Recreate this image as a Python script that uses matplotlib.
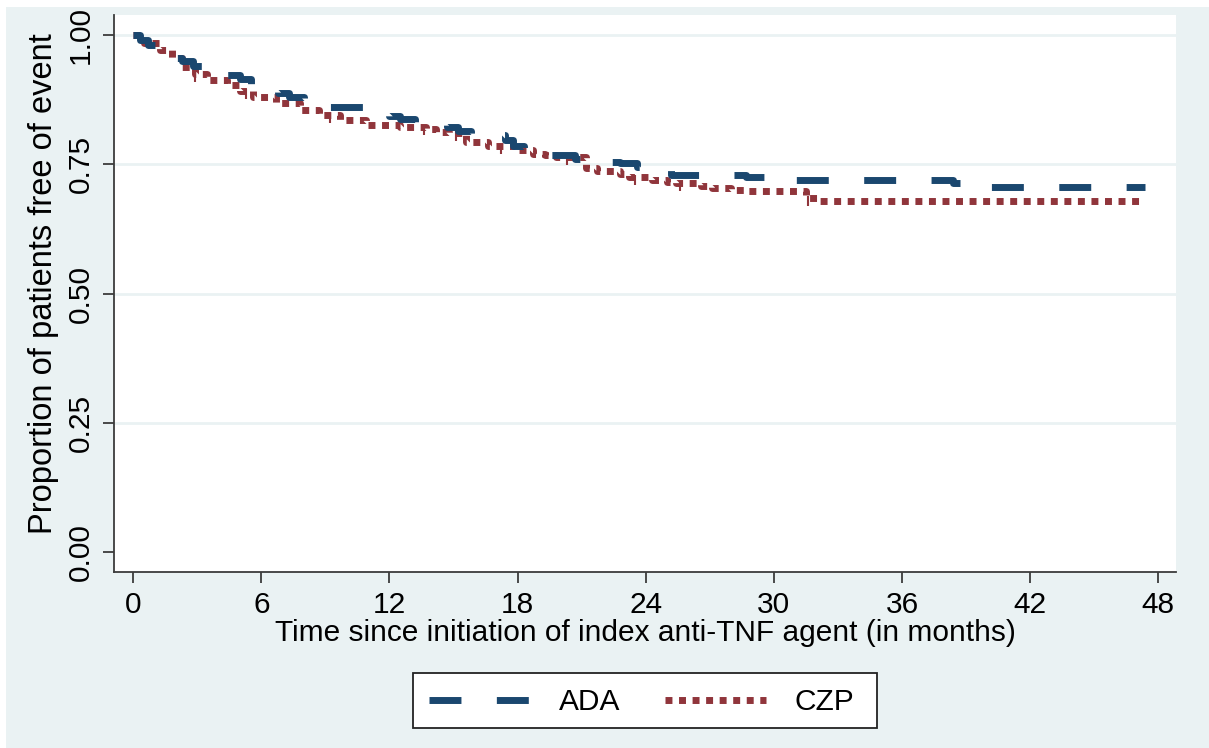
import matplotlib
matplotlib.use("Agg")
import matplotlib.pyplot as plt
from matplotlib.patches import Rectangle
from matplotlib.lines import Line2D
import numpy as np

# ---------------- data ----------------
ada_time = [0, 0.3, 0.7, 1.2, 1.8, 2.3, 2.8, 3.3, 4.4, 5.0, 5.5, 6.8, 7.3, 8.0,
            9.2, 12.0, 12.5, 13.2, 14.7, 15.2, 15.8, 17.4, 17.8, 18.3, 19.5,
            20.7, 21.2, 22.8, 23.6, 24.0, 25.2, 28.7, 29.7, 38.4, 40.0, 47.4]
ada_surv = [1.0, 0.99, 0.98, 0.97, 0.955, 0.95, 0.94, 0.935, 0.922, 0.915, 0.905,
            0.888, 0.88, 0.87, 0.861, 0.843, 0.838, 0.832, 0.822, 0.815, 0.807,
            0.797, 0.785, 0.772, 0.768, 0.76, 0.755, 0.752, 0.745, 0.741, 0.729,
            0.725, 0.72, 0.713, 0.706, 0.706]

czp_time = [0, 0.5, 1.26, 1.8, 2.3, 2.9, 3.46, 4.4, 5.0, 5.6, 6.7, 7.8, 8.7,
            9.7, 10.9, 12.5, 13.7, 14.2, 14.8, 15.6, 16.6, 17.9, 18.7, 19.3,
            19.8, 21.2, 21.7, 22.8, 23.2, 24.3, 25.0, 25.4, 26.6, 27.1, 28.0,
            28.7, 31.5, 32.0, 47.1]
czp_surv = [1.0, 0.985, 0.971, 0.955, 0.938, 0.925, 0.913, 0.903, 0.892, 0.88,
            0.868, 0.855, 0.845, 0.836, 0.826, 0.822, 0.818, 0.812, 0.81, 0.793,
            0.785, 0.778, 0.77, 0.768, 0.764, 0.743, 0.737, 0.731, 0.725, 0.72,
            0.716, 0.714, 0.708, 0.704, 0.70, 0.699, 0.685, 0.679, 0.679]

czp_censor_time = [2.9, 5.3, 9.2, 13.6, 15.1, 17.2, 20.3, 23.5, 25.6, 31.6]

x_ticks = [0, 6, 12, 18, 24, 30, 36, 42, 48]
y_ticks = [0.00, 0.25, 0.50, 0.75, 1.00]
y_tick_labels = ["0.00", "0.25", "0.50", "0.75", "1.00"]

x_label = "Time since initiation of index anti-TNF agent (in months)"
y_label = "Proportion of patients free of event"
series_names = ["ADA", "CZP"]

# ---------------- style ----------------
plt.rcParams['font.family'] = ['Liberation Sans', 'DejaVu Sans']
FS = 21.5
NAVY = "#1a476f"
MAROON = "#90353b"
BG = "#eaf2f3"
AXC = "#3c3c3c"

W, H = 1209, 748
fig = plt.figure(figsize=(W / 100, H / 100), dpi=100, facecolor="white")
fig.patches.append(Rectangle((6 / W, 0), 1 - 6 / W, 1 - 7 / H,
                             transform=fig.transFigure, facecolor=BG,
                             edgecolor="none", zorder=-10))

ax = fig.add_axes([114 / W, 1 - 572 / H, (1176 - 114) / W, (572 - 15) / H])
ax.set_facecolor("white")
ax.set_xlim(-0.90, 48.83)
ax.set_ylim(-0.038, 1.0387)

for y in y_ticks[1:]:
    ax.axhline(y, color=BG, lw=2.0, zorder=0)

lw = 5.0
ADA_DASH = (4.6, 5.1)
CZP_DASH = (1.0, 0.95)
ax.step(ada_time, ada_surv, where="post", color=NAVY, lw=lw,
        dashes=ADA_DASH, dash_capstyle="butt", zorder=3)
ax.step(czp_time, czp_surv, where="post", color=MAROON, lw=lw,
        dashes=CZP_DASH, dash_capstyle="butt", zorder=2)

# censor marks on CZP
ct = np.array(czp_censor_time)
idx = np.searchsorted(czp_time, ct, side="right") - 1
cs = np.array(czp_surv)[idx]
ax.plot(ct, cs - 0.006, linestyle="none", marker="|", markersize=7,
        markeredgewidth=1.5, color=MAROON, zorder=2)

for s in ["top", "right"]:
    ax.spines[s].set_visible(False)
for s in ["left", "bottom"]:
    ax.spines[s].set_color(AXC)
    ax.spines[s].set_linewidth(1.3)

ax.set_xticks(x_ticks)
ax.set_xticklabels([str(v) for v in x_ticks], fontsize=FS)
ax.set_yticks(y_ticks)
ax.set_yticklabels(y_tick_labels, fontsize=FS, rotation=90, va="center")
ax.tick_params(axis="both", length=8, width=1.3, color=AXC, labelcolor="black")
ax.tick_params(axis="x", pad=6)
ax.tick_params(axis="y", pad=6)

ax.set_xlabel(x_label, fontsize=FS, labelpad=0)
ax.set_ylabel(y_label, fontsize=23.5, labelpad=2)
ax.yaxis.set_label_coords(-0.052, 0.518)

# legend: manual frame + frameless legend
fig.patches.append(Rectangle((413 / W, 1 - 728 / H), (877 - 413) / W, (728 - 673) / H,
                             transform=fig.transFigure, facecolor="white",
                             edgecolor="#222222", linewidth=1.3, zorder=5))
handles = [Line2D([], [], color=NAVY, lw=lw, dashes=ADA_DASH, dash_capstyle="butt"),
           Line2D([], [], color=MAROON, lw=lw, dashes=CZP_DASH, dash_capstyle="butt")]
leg = fig.legend(handles, series_names, loc="center", ncol=2,
                 bbox_to_anchor=(641.5 / W, 1 - 702 / H), fontsize=FS,
                 frameon=False, handlelength=3.38,
                 handletextpad=0.95, columnspacing=1.5, borderpad=0.2)
leg.set_zorder(6)

fig.savefig("out.png", dpi=100, facecolor=fig.get_facecolor())
